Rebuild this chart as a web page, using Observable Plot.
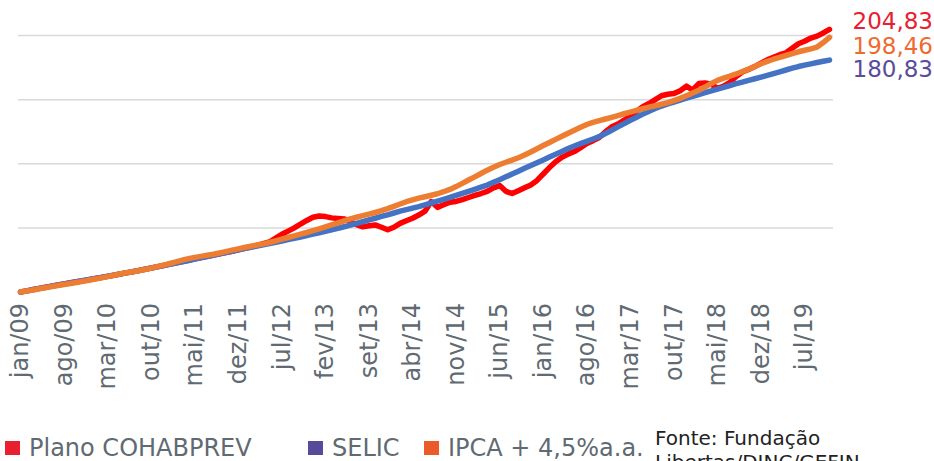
<!DOCTYPE html>
<html>
<head>
<meta charset="utf-8">
<script src="https://cdn.jsdelivr.net/npm/d3@7"></script>
<script src="https://cdn.jsdelivr.net/npm/@observablehq/plot@0.6"></script>
<style>
  html, body { margin: 0; padding: 0; background: #fff; overflow: hidden; }
  #wrap { position: relative; width: 934px; height: 461px; }
  #chart { position: absolute; left: 0; top: 0; }
  #legend { position: absolute; left: 0; top: 400px; }
</style>
</head>
<body>
<div id="wrap"><div id="chart"></div><svg id="legend" width="934" height="61"></svg></div>
<script>
const monthNames = ["jan","fev","mar","abr","mai","jun","jul","ago","set","out","nov","dez"];
const months = Array.from({length: 131}, (_, i) => monthNames[i % 12] + "/" + String(9 + Math.floor(i / 12)).padStart(2, "0"));

const tickLabels = ["jan/09","ago/09","mar/10","out/10","mai/11","dez/11","jul/12","fev/13","set/13","abr/14","nov/14","jun/15","jan/16","ago/16","mar/17","out/17","mai/18","dez/18","jul/19"];
const gridValues = [50, 100, 150, 200];

const seriesNames = ["Plano COHABPREV", "SELIC", "IPCA + 4,5%a.a."];

const plano = [
  0.0, 0.9, 1.9, 2.8, 3.7, 4.6, 5.4, 6.3, 7.2, 8.0,
  8.8, 9.6, 10.5, 11.3, 12.2, 13.1, 14.0, 14.9, 15.8, 16.8,
  17.7, 18.7, 19.7, 20.7, 21.7, 22.8, 23.8, 24.8, 25.8, 26.8,
  27.8, 28.8, 29.8, 30.8, 31.8, 32.9, 34.0, 35.1, 36.3, 37.6,
  39.0, 42.0, 45.0, 47.5, 50.0, 53.0, 55.8, 58.3, 59.3, 58.8,
  57.8, 57.4, 57.0, 55.0, 52.5, 50.8, 51.6, 52.3, 50.5, 48.5,
  50.5, 53.5, 55.5, 57.5, 60.0, 63.0, 70.5, 66.0, 68.0, 70.0,
  70.6, 72.0, 73.7, 75.3, 76.8, 78.5, 81.2, 83.0, 78.5, 76.8,
  79.0, 81.3, 83.5, 87.0, 92.0, 97.0, 101.5, 105.0, 107.5, 109.5,
  112.5, 115.8, 118.0, 120.5, 125.0, 128.8, 131.0, 134.0, 137.5, 141.0,
  144.5, 147.0, 150.0, 153.0, 154.2, 154.7, 157.0, 160.5, 157.5, 162.5,
  163.0, 162.0, 158.8, 160.5, 163.5, 168.0, 171.5, 173.5, 175.8, 178.5,
  181.0, 183.0, 185.0, 186.5, 190.0, 193.6, 195.5, 198.0, 199.5, 202.0,
  204.83
];

const selic = [
  0.0, 0.9, 1.8, 2.7, 3.6, 4.5, 5.4, 6.3, 7.1, 8.0,
  8.8, 9.7, 10.5, 11.4, 12.3, 13.1, 14.0, 14.9, 15.8, 16.7,
  17.7, 18.6, 19.6, 20.6, 21.6, 22.6, 23.6, 24.6, 25.7, 26.7,
  27.7, 28.7, 29.7, 30.7, 31.7, 32.8, 33.8, 34.8, 35.8, 36.8,
  37.8, 38.8, 39.8, 40.8, 41.8, 42.9, 44.0, 45.1, 46.2, 47.4,
  48.5, 49.7, 50.9, 52.1, 53.5, 54.8, 56.2, 57.5, 58.9, 60.2,
  61.6, 63.0, 64.2, 65.4, 66.6, 68.0, 69.4, 70.8, 72.3, 73.7,
  75.3, 76.9, 78.5, 80.1, 81.7, 83.4, 85.5, 87.6, 89.8, 92.0,
  94.2, 96.4, 98.6, 100.8, 103.0, 105.2, 107.4, 109.6, 111.8, 113.8,
  115.7, 117.5, 119.3, 121.1, 123.6, 126.1, 128.7, 131.3, 133.9, 136.3,
  138.7, 141.0, 143.1, 145.0, 146.6, 148.1, 149.6, 151.1, 152.6, 154.0,
  155.4, 156.8, 158.2, 159.6, 161.0, 162.4, 163.7, 165.0, 166.3, 167.6,
  168.9, 170.3, 171.7, 173.1, 174.5, 175.8, 176.9, 177.9, 178.9, 179.9,
  180.83
];

const ipca = [
  0.0, 0.8, 1.6, 2.5, 3.3, 4.2, 5.0, 5.8, 6.6, 7.4,
  8.3, 9.2, 10.1, 11.0, 12.0, 13.1, 14.1, 15.0, 15.8, 16.6,
  17.5, 18.6, 19.8, 21.0, 22.2, 23.5, 24.8, 26.0, 27.0, 27.8,
  28.6, 29.4, 30.4, 31.5, 32.6, 33.6, 34.7, 35.7, 36.6, 37.5,
  38.6, 39.9, 41.2, 42.5, 43.8, 45.1, 46.4, 47.8, 49.3, 50.8,
  52.3, 53.8, 55.4, 57.0, 58.3, 59.5, 60.7, 62.0, 63.4, 65.0,
  66.8, 68.6, 70.4, 71.8, 73.2, 74.3, 75.4, 76.6, 78.2, 80.0,
  82.2, 84.7, 87.3, 89.8, 92.4, 95.0, 97.3, 99.4, 101.2, 102.9,
  104.7, 106.8, 109.2, 111.7, 114.2, 116.6, 119.0, 121.4, 123.8, 126.1,
  128.5, 130.6, 132.3, 133.6, 134.9, 136.2, 137.6, 139.0, 140.3, 141.6,
  142.9, 144.1, 145.2, 146.4, 147.7, 149.3, 151.0, 153.0, 155.1, 157.3,
  159.8, 162.6, 165.0, 166.8, 168.4, 170.0, 171.8, 173.8, 175.9, 178.0,
  179.8, 181.5, 183.0, 184.4, 185.9, 187.3, 188.5, 189.6, 191.0, 194.5,
  198.46
];

const seriesValues = [plano, selic, ipca];
const lineColors = ["#ff0000", "#4472c4", "#ed7d31"];
const labelColors = ["#e8202f", "#5a4b9c", "#ef6a30"];
const legendColors = ["#e8202f", "#574a9b", "#ec5a2a"];
const labelDy = [-8, 10, 9];
const fmt = v => v.toFixed(2).replace(".", ",");

const data = seriesNames.flatMap((s, k) => seriesValues[k].map((v, i) => ({month: months[i], value: v, series: s})));
const lastIdx = months.length - 1;

const endLabelMarks = seriesNames.map((s, k) =>
  Plot.text([{month: months[lastIdx], value: seriesValues[k][lastIdx]}], {
    x: "month", y: "value", text: d => fmt(d.value),
    fill: labelColors[k], fontSize: 23, textAnchor: "start", dx: 23, dy: labelDy[k]
  })
);

const chart = Plot.plot({
  width: 934,
  height: 400,
  marginTop: 35,
  marginBottom: 108.5,
  marginLeft: 20,
  marginRight: 105,
  style: {fontFamily: "'DejaVu Sans', sans-serif", background: "#fff", overflow: "visible"},
  x: {type: "point", domain: months, padding: 0, round: false, label: null},
  y: {domain: [0, 200], axis: null},
  color: {domain: seriesNames, range: lineColors},
  marks: [
    Plot.ruleY(gridValues, {stroke: "#d9d9d9", strokeWidth: 1.5, insetLeft: -2, insetRight: -4}),
    Plot.line(data, {x: "month", y: "value", z: "series", stroke: "series", strokeWidth: 5.5, strokeLinecap: "round", strokeLinejoin: "round"}),
    Plot.axisX({ticks: tickLabels, tickSize: 0, tickPadding: 11, tickRotate: -90, fontSize: 24, color: "#5f6a72", label: null}),
    ...endLabelMarks
  ]
});
document.getElementById("chart").appendChild(chart);

// Legend and source (below the chart)
const legend = d3.select("#legend").style("font-family", "'DejaVu Sans', sans-serif");
const legendX = [5, 308, 424];
seriesNames.forEach((s, k) => {
  legend.append("rect").attr("x", legendX[k]).attr("y", 41).attr("width", 15).attr("height", 14).attr("fill", legendColors[k]);
  legend.append("text").attr("x", legendX[k] + 24).attr("y", 56).attr("font-size", 24).attr("fill", "#5f6a72").text(s);
});
const sourceLines = ["Fonte: Fundação", "Libertas/DINC/GEFIN"];
sourceLines.forEach((t, i) => {
  legend.append("text").attr("x", 655).attr("y", 45 + i * 24).attr("font-size", 20).attr("fill", "#222").text(t);
});
</script>
</body>
</html>
